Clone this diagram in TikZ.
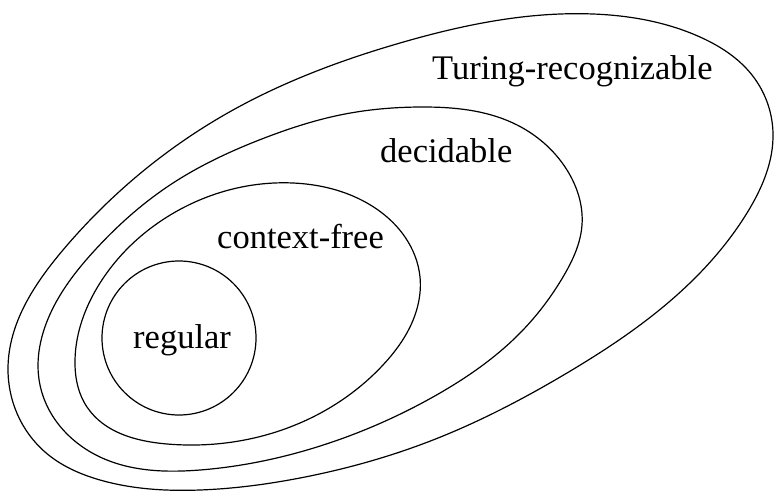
\documentclass[tikz,border=0pt]{standalone}
\usepackage{fontspec}
\setmainfont{Liberation Serif}
\usetikzlibrary{hobby}
\begin{document}
\begin{tikzpicture}[x=1pt,y=-1pt,
  setline/.style={line width=1.2pt, black, use Hobby shortcut, closed=true},
  setlabel/.style={anchor=base west, inner sep=0pt, font=\fontsize{34.5}{40}\selectfont}]
\useasboundingbox (0,0) rectangle (782,497);
% Turing-recognizable
\draw[setline] (593,14) .. (700,37) .. (752,75) .. (773,133) .. (747,213) .. (693,280) .. (567,373) .. (433,440) .. (300,478) .. (200,490) .. (100,480) .. (45,452) .. (8,368) .. (63,250) .. (233,110) .. (400,43);
% decidable
\draw[setline] (423,107) .. (513,123) .. (567,170) .. (582,225) .. (563,277) .. (523,330) .. (433,397) .. (317,447) .. (200,470) .. (100,457) .. (40,385) .. (52,310) .. (95,250) .. (167,187) .. (267,137) .. (340,115);
% context-free
\draw[setline] (293,183) .. (367,203) .. (405,237) .. (420,277) .. (410,327) .. (383,365) .. (300,423) .. (167,444) .. (87,407) .. (75,360) .. (100,283) .. (167,217);
% regular
\draw[line width=1.2pt] (179,338) circle[radius=77];
\node[setlabel] (tr) at (432,80) {Turing-recognizable};
\node[setlabel] (dec) at (380,163) {decidable};
\node[setlabel] (cf) at (217,249) {context-free};
\node[setlabel] (reg) at (133,348) {regular};
\end{tikzpicture}
\end{document}
